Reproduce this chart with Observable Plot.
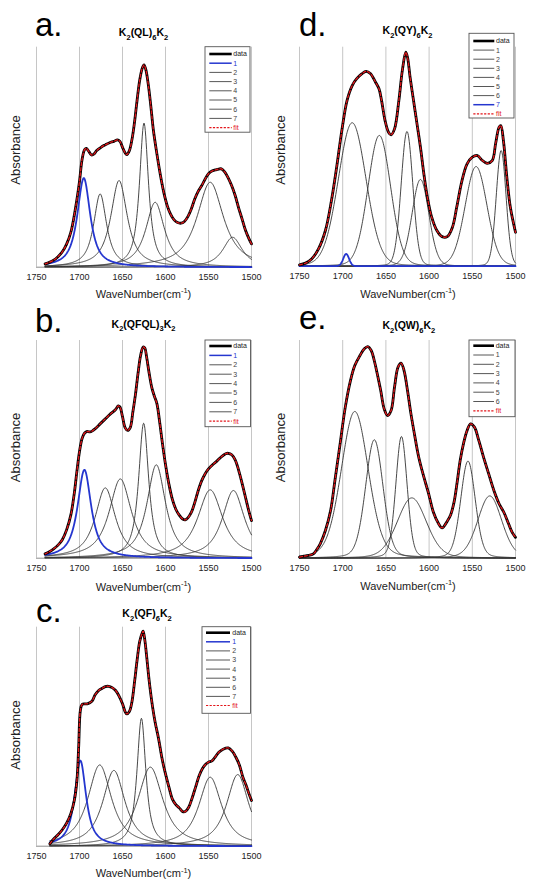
<!DOCTYPE html>
<html>
<head>
<meta charset="utf-8">
<script src="https://cdn.jsdelivr.net/npm/d3@7"></script>
<script src="https://cdn.jsdelivr.net/npm/@observablehq/plot@0.6"></script>
<style>
html, body { margin: 0; padding: 0; background: #fff; }
#wrap { position: relative; width: 534px; height: 891px; overflow: hidden; background: #fff; }
#wrap svg { position: absolute; left: 0; top: 0; background: transparent !important; overflow: visible; }
</style>
</head>
<body>
<div id="wrap"></div>
<script>
// ---------- shared tick labels ----------
const xTicks = [1750, 1700, 1650, 1600, 1550, 1500];

// ---------- panel a: K2(QL)6K2 ----------
const aWn  = [1740,1735,1730,1725,1720,1715,1710,1705,1700,1697,1694,1692,1689,1686,1683,1680,1675,1670,1665,1660,1656,1653,1650,1647,1645,1642,1639,1636,1633,1630,1627,1625,1623,1620,1617,1614,1610,1606,1602,1598,1594,1590,1586,1582,1578,1574,1570,1566,1562,1558,1554,1550,1546,1542,1538,1535,1531,1527,1523,1519,1515,1511,1507,1503,1500];
const aAbs = [0.015,0.022,0.032,0.048,0.07,0.105,0.16,0.26,0.39,0.49,0.535,0.54,0.525,0.51,0.515,0.53,0.545,0.556,0.566,0.572,0.579,0.572,0.545,0.52,0.512,0.53,0.58,0.66,0.76,0.85,0.905,0.92,0.9,0.83,0.73,0.62,0.515,0.42,0.34,0.28,0.24,0.215,0.203,0.2,0.208,0.23,0.265,0.31,0.345,0.37,0.4,0.425,0.437,0.442,0.446,0.447,0.432,0.405,0.37,0.326,0.27,0.22,0.168,0.13,0.106];
const aCenter = [1695, 1676, 1654, 1625, 1612, 1548, 1522];
const aHeight = [0.405, 0.333, 0.394, 0.655, 0.295, 0.386, 0.136];
const aFwhm   = [18, 18, 23, 12.5, 26, 37, 27];

// ---------- panel b: K2(QFQL)3K2 ----------
const bWn  = [1740,1735,1730,1725,1720,1715,1710,1706,1703,1700,1697,1694,1691,1688,1685,1682,1676,1670,1664,1658,1655,1653,1650,1647,1644,1641,1638,1635,1632,1629,1626,1624,1622,1619,1616,1613,1610,1607,1604,1600,1596,1592,1588,1584,1580,1577,1574,1570,1566,1562,1558,1554,1550,1545,1540,1535,1530,1527,1523,1519,1515,1511,1507,1503,1500];
const bAbs = [0.02,0.03,0.043,0.06,0.085,0.13,0.2,0.3,0.4,0.49,0.55,0.575,0.582,0.58,0.585,0.594,0.617,0.64,0.663,0.683,0.7,0.695,0.65,0.6,0.587,0.6,0.67,0.75,0.847,0.93,0.97,0.965,0.925,0.85,0.785,0.745,0.71,0.632,0.54,0.43,0.34,0.27,0.225,0.198,0.18,0.176,0.185,0.21,0.255,0.31,0.355,0.387,0.41,0.43,0.447,0.466,0.48,0.482,0.475,0.452,0.405,0.345,0.28,0.215,0.173];
const bCenter = [1694.3, 1670, 1652.5, 1625.4, 1610.7, 1548, 1521];
const bHeight = [0.406, 0.323, 0.364, 0.62, 0.429, 0.314, 0.311];
const bFwhm   = [19, 28, 31, 14, 26, 35, 31];

// ---------- panel c: K2(QF)6K2 ----------
const cWn  = [1734.5,1730,1725,1720,1715,1710,1706,1703,1701,1699,1697,1694,1691,1688,1685,1682,1678,1674,1670,1666,1662,1658,1654,1650,1647,1645,1642,1639,1636,1633,1630,1627,1626,1624,1622,1619,1615,1612,1608,1604,1600,1596,1592,1588,1584,1580,1577,1573,1569,1565,1561,1557,1553,1550,1546,1543,1538,1533,1527,1522,1518,1514,1510,1506,1503,1500];
const cAbs = [0.011,0.033,0.052,0.075,0.105,0.15,0.21,0.3,0.45,0.62,0.647,0.65,0.65,0.655,0.665,0.69,0.71,0.72,0.729,0.73,0.724,0.711,0.685,0.65,0.615,0.604,0.615,0.66,0.75,0.85,0.935,0.975,0.982,0.94,0.87,0.756,0.635,0.565,0.49,0.4,0.33,0.27,0.215,0.19,0.175,0.158,0.158,0.178,0.22,0.27,0.32,0.355,0.375,0.384,0.39,0.403,0.429,0.443,0.449,0.432,0.405,0.37,0.315,0.275,0.24,0.209];
const cCenter = [1699, 1676.5, 1660, 1628, 1617.6, 1548, 1516];
const cHeight = [0.391, 0.371, 0.346, 0.584, 0.361, 0.315, 0.327];
const cFwhm   = [16, 33, 31, 12.4, 35, 32, 31];

// ---------- panel d: K2(QY)6K2 ----------
const dWn  = [1750,1743,1736,1728,1720,1713,1707,1701,1695,1689,1684,1678,1673,1668,1662,1658,1655,1651,1647,1644,1640,1635,1631,1627,1625,1622,1618,1614,1610,1606,1602,1597,1591,1585,1579,1573,1568,1562,1556,1550,1544,1539,1533,1527,1523,1519,1517,1514,1510,1506,1500];
const dAbs = [0.006,0.014,0.033,0.079,0.163,0.3,0.452,0.62,0.756,0.825,0.855,0.878,0.89,0.88,0.84,0.81,0.756,0.665,0.612,0.6,0.627,0.756,0.893,0.977,0.954,0.863,0.756,0.65,0.543,0.42,0.315,0.224,0.163,0.135,0.135,0.178,0.27,0.39,0.467,0.498,0.505,0.485,0.47,0.482,0.56,0.635,0.642,0.574,0.406,0.27,0.155];
const dCenter = [1689, 1657.6, 1625.6, 1610, 1545.6, 1516.6, 1696];
const dHeight = [0.655, 0.597, 0.615, 0.396, 0.455, 0.528, 0.056];
const dFwhm   = [38, 31, 16, 23, 30, 13.5, 8];

// ---------- panel e: K2(QW)6K2 ----------
const eWn  = [1750,1745,1741,1734,1730,1726,1720,1714,1709,1703,1697,1691,1686,1680,1675,1671,1667,1663,1660,1656,1652,1648,1644,1640,1636,1632.5,1629,1625,1621,1617,1612,1606,1600.5,1595,1589,1585,1579,1575,1571,1567.5,1564,1560,1556,1552,1547.5,1542.5,1537,1531,1525,1519,1513.5,1508,1504,1500];
const eAbs = [0.005,0.009,0.012,0.02,0.04,0.066,0.127,0.219,0.357,0.525,0.694,0.816,0.885,0.931,0.962,0.972,0.954,0.9,0.847,0.77,0.686,0.655,0.678,0.786,0.877,0.896,0.862,0.77,0.663,0.571,0.464,0.372,0.296,0.211,0.158,0.139,0.17,0.2,0.26,0.35,0.45,0.53,0.587,0.617,0.602,0.541,0.464,0.387,0.311,0.25,0.211,0.158,0.12,0.096];
const eCenter = [1686, 1663.4, 1632, 1620, 1555, 1529.8];
const eHeight = [0.674, 0.544, 0.559, 0.277, 0.446, 0.286];
const eFwhm   = [37, 24, 15.5, 40, 20, 33];

// ---------- panel setup (layout kept apart from data) ----------
const panels = [
  { letter: "a.", title: "K_2(QL)_6K_2", wn: aWn, abs: aAbs, center: aCenter, height: aHeight, fwhm: aFwhm,
    eta: 0.9, start: 1740, blue: 0,
    frame: [36, 251, 46.7, 266.7], letterPos: [35, 36], titlePos: [143.5, 36], xTitle: [143.5, 297.5], yTitle: [20, 150],
    legend: { x: 205, y: 46.7, w: 45, h: 85.5, row0: 54, step: 9.2, lx1: 209.3, lx2: 231.7, tx: 233.3 } },
  { letter: "b.", title: "K_2(QFQL)_3K_2", wn: bWn, abs: bAbs, center: bCenter, height: bHeight, fwhm: bFwhm,
    eta: 0.9, start: 1740, blue: 0,
    frame: [36, 251, 340, 557.7], letterPos: [35, 331.7], titlePos: [143.5, 327.7], xTitle: [143.5, 590.5], yTitle: [20, 447.5],
    legend: { x: 205, y: 340, w: 45.5, h: 86.7, row0: 346, step: 9.4, lx1: 209.3, lx2: 231.7, tx: 233.3 } },
  { letter: "c.", title: "K_2(QF)_6K_2", wn: cWn, abs: cAbs, center: cCenter, height: cHeight, fwhm: cFwhm,
    eta: 0.9, start: 1734.5, blue: 0,
    frame: [36, 251, 626.7, 845.7], letterPos: [36, 621.7], titlePos: [147, 617.3], xTitle: [143.5, 877], yTitle: [20, 735],
    legend: { x: 202, y: 626.7, w: 48.5, h: 86.6, row0: 632.7, step: 9.1, lx1: 206, lx2: 230, tx: 232.3 } },
  { letter: "d.", title: "K_2(QY)_6K_2", wn: dWn, abs: dAbs, center: dCenter, height: dHeight, fwhm: dFwhm,
    eta: 0.1, start: 1750, blue: 6,
    frame: [299, 515, 46.7, 265.7], letterPos: [299, 36], titlePos: [407.5, 34.3], xTitle: [408, 297.5], yTitle: [285, 150],
    legend: { x: 469, y: 33.3, w: 45, h: 84.7, row0: 41, step: 9.1, lx1: 473.3, lx2: 494.3, tx: 496 } },
  { letter: "e.", title: "K_2(QW)_6K_2", wn: eWn, abs: eAbs, center: eCenter, height: eHeight, fwhm: eFwhm,
    eta: 0.2, start: 1750, blue: -1,
    frame: [299, 515, 340, 557.7], letterPos: [299, 329.3], titlePos: [408.8, 329.3], xTitle: [408, 589.7], yTitle: [285, 447.5],
    legend: { x: 469, y: 340, w: 46, h: 76.7, row0: 345.7, step: 9.3, lx1: 473.3, lx2: 494, tx: 495.7 } }
];

const W = 534, H = 891;
const FONT = "'Liberation Sans', Arial, Helvetica, sans-serif";
const BLUE = "#2536cf", RED = "#e3161b", COMP = "#333333";

// peak shape from read centre / height / width (pseudo-Voigt)
function peak(x, c, h, w, eta) {
  const t = (x - c) / w;
  return h * (eta / (1 + 4 * t * t) + (1 - eta) * Math.exp(-4 * Math.LN2 * t * t));
}

const wrap = document.getElementById("wrap");

panels.forEach(P => {
  const [L, R, T, B] = P.frame;
  const env = P.wn.map((w, i) => ({ wn: w, v: P.abs[i] }));
  const comps = [];
  P.center.forEach((c, i) => {
    for (let x = P.start; x >= 1500; x -= 0.5) {
      comps.push({ wn: x, v: peak(x, c, P.height[i], P.fwhm[i], P.eta), comp: i });
    }
  });

  const plot = Plot.plot({
    width: W, height: H,
    marginLeft: L, marginRight: W - R, marginTop: T, marginBottom: H - B,
    style: { background: "transparent", fontFamily: FONT, fontSize: "9px", color: "#222", overflow: "visible" },
    x: { domain: [1750, 1500], ticks: xTicks, tickFormat: d => String(d), tickSize: 0, tickPadding: 6.3, label: null },
    y: { domain: [0, 1], axis: null },
    marks: [
      Plot.ruleX(xTicks, { stroke: "#c6c6c6", strokeWidth: 1 }),
      Plot.ruleY([0], { stroke: "#8c8c8c", strokeWidth: 1 }),
      Plot.line(comps.filter(d => d.comp !== P.blue), { x: "wn", y: "v", z: "comp", stroke: COMP, strokeWidth: 0.9 }),
      Plot.line(comps.filter(d => d.comp === P.blue), { x: "wn", y: "v", stroke: BLUE, strokeWidth: 1.8 }),
      Plot.line(env, { x: "wn", y: "v", stroke: "#000", strokeWidth: 2.8, curve: "catmull-rom" }),
      Plot.line(env, { x: "wn", y: "v", stroke: RED, strokeWidth: 1.3, strokeDasharray: "3,2", curve: "catmull-rom" })
    ]
  });
  wrap.appendChild(plot);

  const svg = d3.select(plot);
  const g = svg.append("g").attr("font-family", FONT);

  // panel letter
  g.append("text").attr("x", P.letterPos[0]).attr("y", P.letterPos[1]).attr("text-anchor", "start")
    .attr("font-size", 33).attr("fill", "#000").text(P.letter);

  // title with subscripts
  const t = g.append("text").attr("x", P.titlePos[0]).attr("y", P.titlePos[1])
    .attr("text-anchor", "middle").attr("font-weight", "bold").attr("font-size", 10.5).attr("fill", "#000");
  let buf = "";
  const chars = P.title.split("");
  const parts = [];
  for (let i = 0; i < chars.length; i++) {
    if (chars[i] === "_") { if (buf) parts.push([buf, false]); buf = ""; parts.push([chars[i + 1], true]); i++; }
    else buf += chars[i];
  }
  if (buf) parts.push([buf, false]);
  let shifted = false;
  parts.forEach(([s, isSub]) => {
    const sp = t.append("tspan").text(s);
    if (isSub) { sp.attr("font-size", 7.5).attr("dy", shifted ? 0 : 3.5); shifted = true; }
    else { sp.attr("font-size", 10.5).attr("dy", shifted ? -3.5 : 0); shifted = false; }
  });

  // x-axis title
  const xt = g.append("text").attr("x", P.xTitle[0]).attr("y", P.xTitle[1])
    .attr("text-anchor", "middle").attr("font-size", 11).attr("fill", "#222");
  xt.append("tspan").text("WaveNumber(cm");
  xt.append("tspan").attr("font-size", 7.5).attr("dy", -4.5).text("-1");
  xt.append("tspan").attr("font-size", 11).attr("dy", 4.5).text(")");

  // y-axis title
  g.append("text").attr("transform", `translate(${P.yTitle[0]},${P.yTitle[1]}) rotate(-90)`)
    .attr("text-anchor", "middle").attr("font-size", 13).attr("fill", "#222").text("Absorbance");

  // legend
  const Lg = P.legend;
  const entries = [{ label: "data", color: "#000", width: 2.6, text: "#222" }];
  P.center.forEach((c, i) => {
    const isBlue = i === P.blue;
    entries.push({ label: String(i + 1), color: isBlue ? BLUE : "#444", width: isBlue ? 1.5 : 0.9, text: isBlue ? BLUE : "#444" });
  });
  entries.push({ label: "fit", color: RED, width: 1.2, dash: "2.2,1.4", text: RED });
  const lg = g.append("g");
  lg.append("rect").attr("x", Lg.x).attr("y", Lg.y).attr("width", Lg.w).attr("height", Lg.h)
    .attr("fill", "#fff").attr("stroke", "#555").attr("stroke-width", 0.9);
  entries.forEach((e, i) => {
    const y = Lg.row0 + i * Lg.step;
    lg.append("line").attr("x1", Lg.lx1).attr("x2", Lg.lx2).attr("y1", y).attr("y2", y)
      .attr("stroke", e.color).attr("stroke-width", e.width).attr("stroke-dasharray", e.dash || null);
    lg.append("text").attr("x", Lg.tx).attr("y", y).attr("dy", "0.35em").attr("text-anchor", "start")
      .attr("font-size", 7).attr("fill", e.text).text(e.label);
  });
});
</script>
</body>
</html>
